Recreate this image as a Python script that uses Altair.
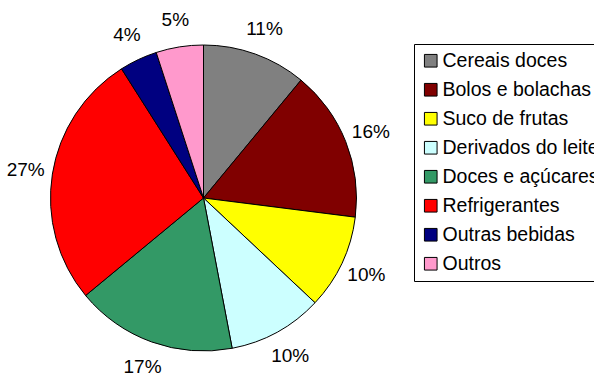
import altair as alt
import pandas as pd

categories = ["Cereais doces", "Bolos e bolachas", "Suco de frutas", "Derivados do leite",
              "Doces e açúcares", "Refrigerantes", "Outras bebidas", "Outros"]
values = [11, 16, 10, 10, 17, 27, 4, 5]
colors = ["#808080", "#800000", "#FFFF00", "#CCFFFF", "#339966", "#FF0000", "#000080", "#FF99CC"]

df = pd.DataFrame({
    "categoria": categories,
    "valor": values,
    "ordem": list(range(len(categories))),
})
df["rotulo"] = df["valor"].astype(str) + "%"

FONT = "Liberation Sans"
CX, CY = 203.5, 198

base = alt.Chart(df).encode(
    theta=alt.Theta("valor:Q", stack=True),
    order=alt.Order("ordem:Q", sort="ascending"),
)

pie = base.mark_arc(stroke="black", strokeWidth=1).encode(
    color=alt.Color(
        "categoria:N",
        scale=alt.Scale(domain=categories, range=colors),
        sort=categories,
        legend=alt.Legend(
            title=None,
            orient="none",
            legendX=414,
            legendY=44,
            symbolType="square",
            symbolSize=160,
            symbolStrokeColor="black",
            symbolStrokeWidth=1,
            labelFont=FONT,
            labelFontSize=19.5,
            labelColor="black",
            labelLimit=400,
            labelOffset=2,
            rowPadding=8,
            padding=7,
            strokeColor="black",
            fillColor="white",
        ),
    ),
    x=alt.value(CX),
    y=alt.value(CY),
    radius=alt.value(153),
)

labels = base.mark_text(font=FONT, fontSize=19, color="black", baseline="middle", align="center").encode(
    text="rotulo:N",
    x=alt.value(CX),
    y=alt.value(CY),
    radius=alt.value(180),
)

chart = alt.layer(pie, labels).properties(
    width=594,
    height=379,
    padding=0,
    autosize=alt.AutoSizeParams(type="none"),
    background="white",
).configure_view(stroke=None)

chart.save("out.html", embed_options={"renderer": "svg", "actions": False})
